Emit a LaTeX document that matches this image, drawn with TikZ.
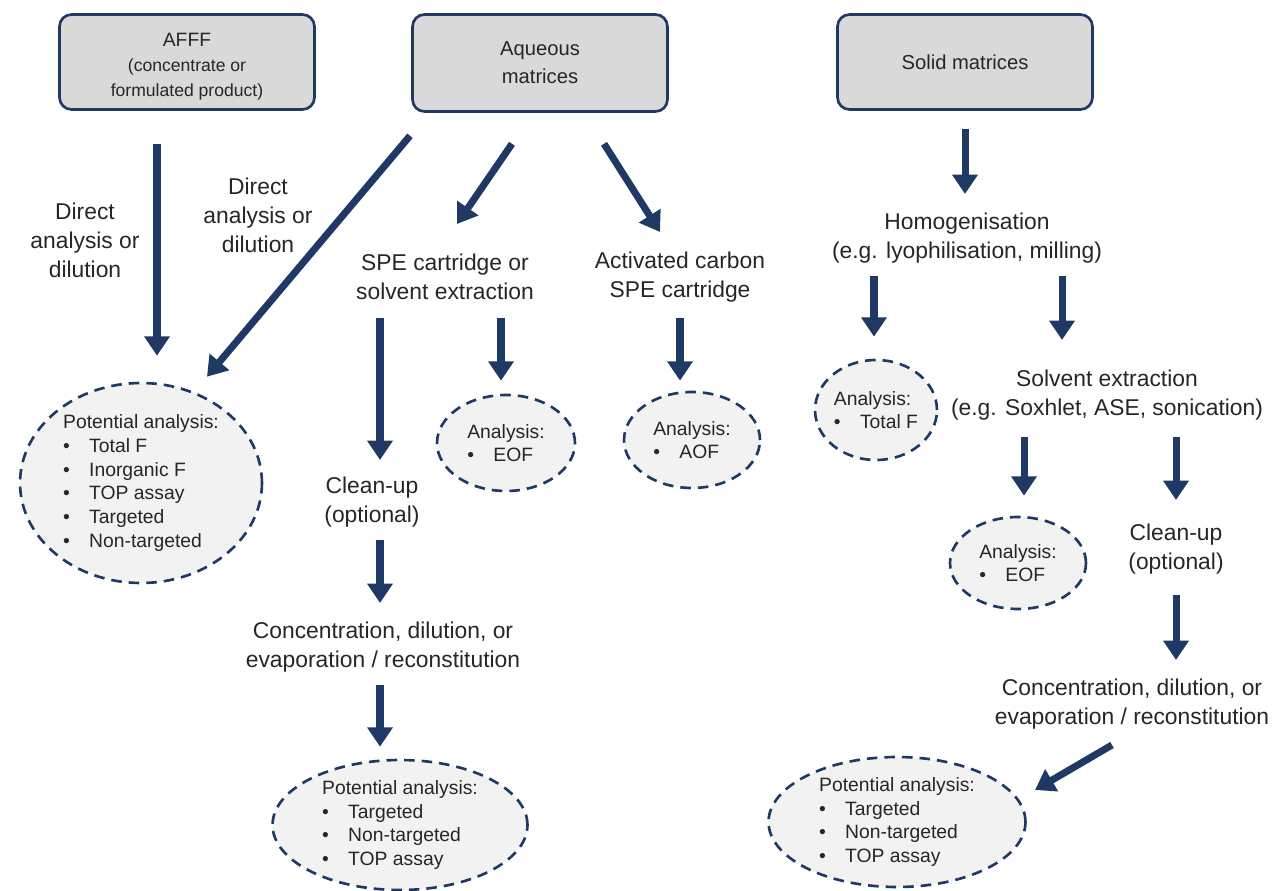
\documentclass[tikz,border=0pt]{standalone}
\usepackage{fontspec}
\setmainfont{Liberation Sans}
\usepackage{xcolor}
\usepackage{tikz}
\usetikzlibrary{arrows.meta,positioning,shapes.geometric,calc}
\definecolor{pfnavy}{RGB}{31,56,100}
\definecolor{pfbox}{RGB}{217,217,217}
\definecolor{pfell}{RGB}{242,242,242}
\definecolor{pftext}{RGB}{38,38,38}
\newcommand{\itm}[1]{\makebox[1.35em][l]{\textbullet}#1}

\begin{document}
\begin{tikzpicture}[
  x=0.02cm, y=-0.02cm,
  text=pftext,
  box/.style={draw=pfnavy, fill=pfbox, rectangle, rounded corners=0.24cm, minimum width=5.1cm, minimum height=1.9cm, align=center, line width=1.5pt, font=\fontsize{11.5}{16}\selectfont},
  ell/.style={draw=pfnavy, fill=pfell, ellipse, dash pattern=on 6pt off 4pt, line width=1.5pt, align=left, inner sep=0pt, font=\fontsize{11}{13.5}\selectfont},
  lbl/.style={align=center, font=\fontsize{13}{16.5}\selectfont},
  >={Triangle[length=11pt,width=14pt]},
  arrline/.style={->, line width=4pt, draw=pfnavy},
]
\useasboundingbox (0,0) rectangle (1277,891);
% top boxes
\node[box, font=\fontsize{10}{14}\selectfont] (afff) at (187,62) {\rule{0pt}{13pt}\fontsize{11}{14}\selectfont AFFF\\(concentrate or\\formulated product)};
\node[box, minimum height=1.94cm] (aq) at (540,63) {Aqueous\\matrices};
\node[box] (solid) at (965,62) {Solid matrices};
% aqueous side
\node[lbl] (direct1) at (85,240) {Direct\\analysis or\\dilution};
\node[lbl] (direct2) at (258,215) {Direct\\analysis or\\dilution};
\node[ell, minimum width=4.84cm, minimum height=4cm] (pa1) at (141,483)
  {Potential analysis:\\\itm{Total F}\\\itm{Inorganic F}\\\itm{TOP assay}\\\itm{Targeted}\\\itm{Non-targeted}};
\node[lbl] (spe) at (445,277) {SPE cartridge or\\solvent extraction};
\node[lbl] (acc) at (680,277) {Activated carbon\\SPE cartridge};
\node[ell, minimum width=2.76cm, minimum height=1.92cm] (eof1) at (506,443) {Analysis:\\\itm{EOF}};
\node[ell, minimum width=2.72cm, minimum height=1.92cm] (aof) at (692,440) {Analysis:\\\itm{AOF}};
\node[lbl] (clean1) at (372,502) {Clean-up\\(optional)};
\node[lbl] (conc1) at (383,647) {Concentration, dilution, or\\evaporation / reconstitution};
\node[ell, minimum width=5.1cm, minimum height=2.6cm] (pa2) at (400,825)
  {Potential analysis:\\\itm{Targeted}\\\itm{Non-targeted}\\\itm{TOP assay}};
% solid side
\node[lbl] (homog) at (967,238) {Homogenisation\\(e.g. lyophilisation, milling)};
\node[ell, minimum width=2.44cm, minimum height=2cm] (totf) at (876,410) {Analysis:\\\itm{Total F}};
\node[lbl] (solv) at (1107,395) {Solvent extraction\\(e.g. Soxhlet, ASE, sonication)};
\node[ell, minimum width=2.72cm, minimum height=1.84cm] (eof2) at (1018,563) {Analysis:\\\itm{EOF}};
\node[lbl] (clean2) at (1176,549) {Clean-up\\(optional)};
\node[lbl] (conc2) at (1132,704) {Concentration, dilution, or\\evaporation / reconstitution};
\node[ell, minimum width=5.14cm, minimum height=2.6cm] (pa3) at (897,822)
  {Potential analysis:\\\itm{Targeted}\\\itm{Non-targeted}\\\itm{TOP assay}};
% arrows
\draw[arrline] ($(afff.south)+(-30,33)$) -- ($(pa1.north)+(16,-26)$);
\draw[arrline] ($(aq.south)+(-130,23)$) -- ($(pa1.north)+(66,-5)$);
\draw[arrline] ($(aq.south)+(-28,31)$) -- ($(spe.center)+(12,-53)$);
\draw[arrline] ($(aq.south)+(64,31)$) -- ($(acc.center)+(-20,-45)$);
\draw[arrline] ($(spe.center)+(-65,41)$) -- ($(clean1.center)+(8,-42)$);
\draw[arrline] ($(spe.center)+(56,41)$) -- ($(eof1.north)+(-5,-13)$);
\draw[arrline] ($(acc.center)+(0,41)$) -- ($(aof.north)+(-12,-10)$);
\draw[arrline] ($(clean1.center)+(8,38)$) -- ($(conc1.center)+(-3,-44)$);
\draw[arrline] ($(conc1.center)+(-3,38)$) -- ($(pa2.north)+(-20,-12)$);
\draw[arrline] ($(solid.south)+(0,18)$) -- ($(homog.center)+(-2,-44)$);
\draw[arrline] ($(homog.center)+(-93,38)$) -- ($(totf.north)+(-2,-22)$);
\draw[arrline] ($(homog.center)+(95,38)$) -- ($(solv.center)+(-45,-55)$);
\draw[arrline] ($(solv.center)+(-83,42)$) -- ($(eof2.north)+(6,-20)$);
\draw[arrline] ($(solv.center)+(69,42)$) -- ($(clean2.center)+(0,-49)$);
\draw[arrline] ($(clean2.center)+(0,46)$) -- ($(conc2.center)+(44,-44)$);
\draw[arrline] ($(conc2.center)+(-20,41)$) -- ($(pa3.center)+(138,-32)$);
\end{tikzpicture}
\end{document}
